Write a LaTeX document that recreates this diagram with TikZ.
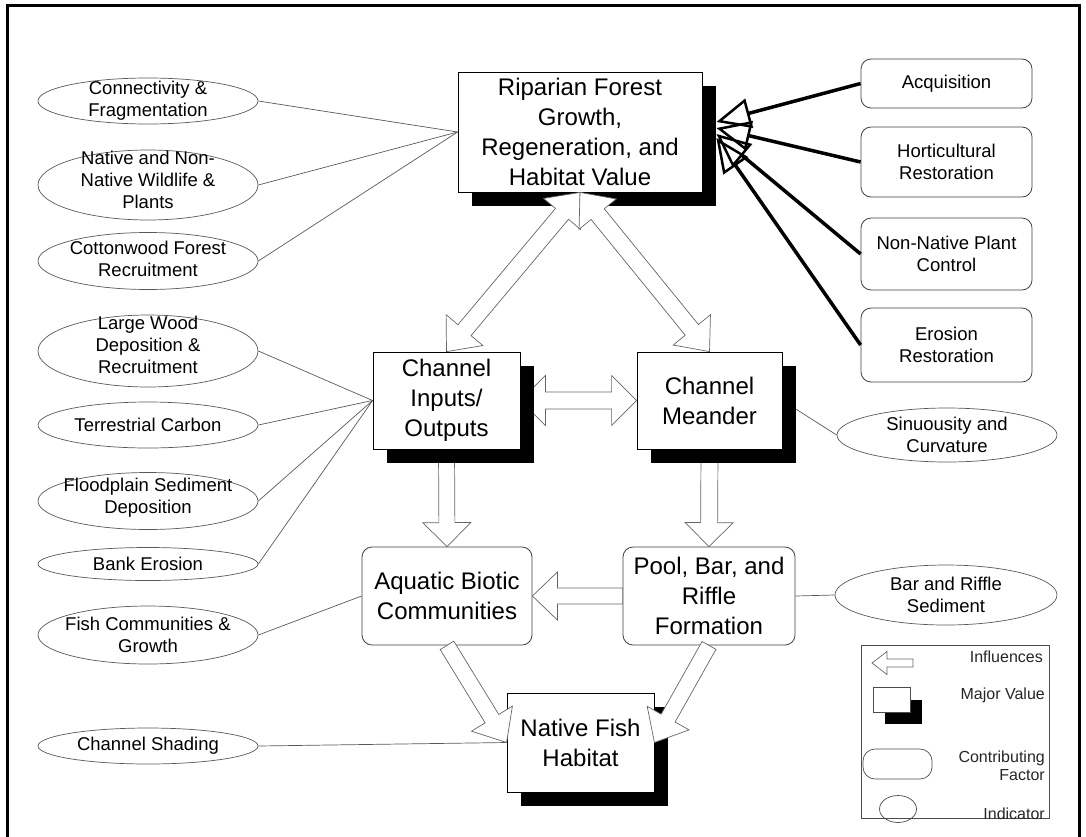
\documentclass[tikz,border=0pt]{standalone}
\usepackage{fontspec}
\setmainfont{Liberation Sans}
\usetikzlibrary{calc,shapes.geometric,arrows.meta,shadows,backgrounds}
\newcommand\mainfnt{\fontsize{24}{30}\selectfont}
\newcommand\smallfnt{\fontsize{18.5}{22}\selectfont}
\newcommand\legfnt{\fontsize{16}{18}\selectfont}
% single block arrow: half shaft, half head, head length, from, to
\newcommand\blkarrow[5]{%
  \coordinate (bq) at ($(#5)!#3!(#4)$);
  \draw[blk] ($(#4)!#1!90:(#5)$) -- ($(bq)!#1!90:(#5)$) -- ($(bq)!#2!90:(#5)$) -- (#5)
    -- ($(bq)!#2!-90:(#5)$) -- ($(bq)!#1!-90:(#5)$) -- ($(#4)!#1!-90:(#5)$) -- cycle;}
% double block arrow
\newcommand\dblarrow[5]{%
  \coordinate (bp) at ($(#4)!#3!(#5)$);
  \coordinate (bq) at ($(#5)!#3!(#4)$);
  \draw[blk] (#4) -- ($(bp)!#2!90:(#5)$) -- ($(bp)!#1!90:(#5)$) -- ($(bq)!#1!90:(#5)$)
    -- ($(bq)!#2!90:(#5)$) -- (#5) -- ($(bq)!#2!-90:(#5)$) -- ($(bq)!#1!-90:(#5)$)
    -- ($(bp)!#1!-90:(#5)$) -- ($(bp)!#2!-90:(#5)$) -- cycle;}
\tikzset{
  major/.style={draw=black, fill=white, line width=0.8pt, align=center, font=\mainfnt, inner sep=0pt,
    drop shadow={shadow xshift=13.5pt, shadow yshift=-13.5pt, fill=black, opacity=1}},
  factor/.style={draw=black!75, rounded corners=10pt, fill=white, line width=0.8pt, align=center,
    inner sep=0pt, font=\smallfnt},
  contrib/.style={factor, font=\mainfnt},
  ind/.style={ellipse, draw=black!65, line width=0.7pt, fill=white, inner sep=0pt, minimum width=220pt},
  itxt/.style={align=center, font=\smallfnt, inner sep=0pt},
  link/.style={draw=black!65, line width=0.7pt},
  bold/.style={line width=3.5pt, -{Triangle[open, length=34pt, width=30pt, line width=2.5pt]}},
  blk/.style={draw=black!60, fill=white, line width=0.7pt, line join=miter},
  legt/.style={font=\legfnt, text=black!85, inner sep=0pt},
}
\begin{document}
\begin{tikzpicture}[x=1pt,y=-1pt]
\useasboundingbox (0,0) rectangle (1086,836);
\draw[line width=3pt] (7,840) -- (7,5) -- (1079,5) -- (1079,840);

% major value boxes
\node[major, minimum width=244pt, minimum height=120pt] (top) at (580,132)
  {Riparian Forest\\Growth,\\Regeneration, and\\Habitat Value};
\node[major, minimum width=147pt, minimum height=97pt] (inputs) at (446.5,400.5) {Channel\\Inputs/\\Outputs};
\node[major, minimum width=145pt, minimum height=97pt] (meander) at (709.5,400.5) {Channel\\Meander};
\node[major, minimum width=147pt, minimum height=99pt] (native) at (580.5,742.5) {Native Fish\\Habitat};

% contributing factors
\node[contrib, minimum width=170pt, minimum height=98pt] (aquatic) at (447,596) {Aquatic Biotic\\Communities};
\node[contrib, minimum width=172pt, minimum height=98pt] (pool) at (709,596) {Pool, Bar, and\\Riffle\\Formation};
\node[factor, minimum width=171pt, minimum height=49pt] (acq) at (946.5,83.5) {Acquisition};
\node[factor, minimum width=171pt, minimum height=70pt] (hort) at (946.5,162) {Horticultural\\Restoration};
\node[factor, minimum width=171pt, minimum height=72pt] (nonnat) at (946.5,254) {Non-Native Plant\\Control};
\node[factor, minimum width=171pt, minimum height=74pt] (eros) at (946.5,345) {Erosion\\Restoration};

% indicators
\node[ind, minimum height=46pt, label={[itxt]center:{Connectivity \&\\Fragmentation}}] (conn) at (148,101) {};
\node[ind, minimum height=70pt, label={[itxt, yshift=5pt]center:{Native and Non-\\Native Wildlife \&\\Plants}}] (wild) at (148,185) {};
\node[ind, minimum height=57pt, label={[itxt, yshift=2pt]center:{Cottonwood Forest\\Recruitment}}] (cotton) at (148,261) {};
\node[ind, minimum height=72pt, label={[itxt, yshift=6pt]center:{Large Wood\\Deposition \&\\Recruitment}}] (wood) at (148,351) {};
\node[ind, minimum height=46pt, label={[itxt]center:{Terrestrial Carbon}}] (carbon) at (148,425) {};
\node[ind, minimum height=57pt, label={[itxt, yshift=3pt]center:{Floodplain Sediment\\Deposition}}] (flood) at (148,501) {};
\node[ind, minimum height=33pt, label={[itxt]center:{Bank Erosion}}] (bank) at (148,564) {};
\node[ind, minimum height=58pt, label={[itxt]center:{Fish Communities \&\\Growth}}] (fish) at (148,635) {};
\node[ind, minimum height=36pt, label={[itxt]center:{Channel Shading}}] (shade) at (148,746) {};
\node[ind, minimum height=54pt, label={[itxt]center:{Sinuousity and\\Curvature}}] (sinu) at (947,435) {};
\node[ind, minimum width=222pt, minimum height=60pt, label={[itxt]center:{Bar and Riffle\\Sediment}}] (bar) at (946,595) {};

\begin{scope}[on background layer]
  \draw[link] (conn.east) -- (top.west);
  \draw[link] (wild.east) -- (top.west);
  \draw[link] (cotton.east) -- (top.west);
  \draw[link] (wood.east) -- (inputs.west);
  \draw[link] (carbon.east) -- (inputs.west);
  \draw[link] (flood.east) -- (inputs.west);
  \draw[link] (bank.east) -- (inputs.west);
  \draw[link] (fish.east) -- (aquatic.west);
  \draw[link] (shade.east) -- (native.west);
  \draw[link] (meander.east) -- (sinu.west);
  \draw[link] (pool.east) -- (bar.west);
  \dblarrow{8.5pt}{25pt}{25pt}{inputs.east}{meander.west}
  \blkarrow{8pt}{24pt}{24pt}{inputs.south}{aquatic.north}
  \blkarrow{8.5pt}{24pt}{24pt}{meander.south}{pool.north}
\end{scope}

% influence arrows on top
\dblarrow{8.5pt}{24pt}{28pt}{top.south}{inputs.north}
\dblarrow{8.5pt}{24pt}{28pt}{top.south}{meander.north}
\blkarrow{8pt}{24pt}{25pt}{pool.west}{aquatic.east}
\blkarrow{8pt}{24pt}{28pt}{aquatic.south}{native.west}
\blkarrow{8pt}{24pt}{28pt}{pool.south}{native.east}

% thick arrows from restoration actions
\draw[bold] (acq.west) -- ($(top.east)+(14,-10)$);
\draw[bold] (hort.west) -- ($(top.east)+(14,-4)$);
\draw[bold] (nonnat.west) -- ($(top.east)+(14,2)$);
\draw[bold] (eros.west) -- ($(top.east)+(14,6)$);

% legend
\node[draw=black!70, line width=0.7pt, minimum width=188pt, minimum height=173pt, inner sep=0pt] (legend) at (955,731.5) {};
\coordinate (lgA) at (913,663);
\coordinate (lgB) at (872,663);
\blkarrow{4pt}{11.5pt}{15pt}{lgA}{lgB}
\node[fill=black, minimum width=37pt, minimum height=24pt, inner sep=0pt] (lgshadow) at (903.5,712) {};
\node[draw=black!70, line width=0.7pt, fill=white, minimum width=37pt, minimum height=25pt, inner sep=0pt] (lgmajor) at (891.5,699.5) {};
\node[draw=black!70, line width=0.7pt, rounded corners=12pt, minimum width=69pt, minimum height=30pt, inner sep=0pt] (lgfactor) at (897.5,764) {};
\node[ellipse, draw=black!70, line width=0.7pt, minimum width=37pt, minimum height=27pt, inner sep=0pt] (lgind) at (898,809) {};
\node[legt, anchor=east] (lt1) at (1043,657) {Influences};
\node[legt, anchor=east] (lt2) at (1045,695) {Major Value};
\node[legt, anchor=east, align=right] (lt3) at (1045,766) {Contributing\\Factor};
\node[legt, anchor=east] (lt4) at (1045,814) {Indicator};
\end{tikzpicture}
\end{document}
